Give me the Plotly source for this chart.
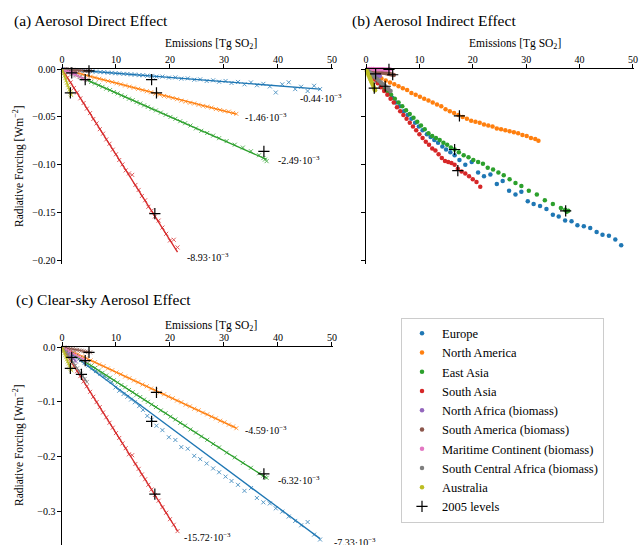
import plotly.graph_objects as go

FONT = "Liberation Serif, DejaVu Serif, Times New Roman, serif"
W, H = 639, 545

REGIONS = ["Europe", "North America", "East Asia", "South Asia",
           "North Africa (biomass)", "South America (biomass)",
           "Maritime Continent (biomass)", "South Central Africa (biomass)",
           "Australia"]
COLORS = ["#1f77b4", "#ff7f0e", "#2ca02c", "#d62728", "#9467bd",
          "#8c564b", "#e377c2", "#7f7f7f", "#bcbd22"]

# ---------------- emissions (Tg SO2) per region ----------------
eu_x = [0.6, 1.3, 2.1, 2.8, 3.5, 4.2, 4.9, 5.6, 6.3, 7.1,
        7.8, 8.5, 9.2, 9.9, 10.6, 11.4, 12.1, 12.8, 13.5, 14.3,
        15.0, 15.8, 16.6, 17.5, 18.6, 19.8, 21.0, 22.1, 23.3, 24.5,
        25.6, 26.8, 28.0, 29.1, 30.3, 31.4, 32.6, 33.8, 35.0, 36.1,
        37.3, 38.5, 39.6, 40.8, 42.0, 43.2, 44.3, 45.5, 46.7, 47.8]
na_x = [0.5, 1.3, 2.1, 2.9, 3.7, 4.5, 5.3, 6.1, 6.9, 7.7,
        8.5, 9.3, 10.1, 10.9, 11.7, 12.5, 13.3, 14.1, 14.9, 15.7,
        16.5, 17.3, 18.1, 18.9, 19.7, 20.5, 21.3, 22.1, 22.9, 23.7,
        24.5, 25.3, 26.1, 26.9, 27.7, 28.5, 29.3, 30.1, 30.9, 31.7,
        32.3]
ea_x = [0.5, 1.2, 1.9, 2.6, 3.3, 4.0, 4.7, 5.4, 6.1, 6.8,
        7.5, 8.2, 8.9, 9.6, 10.3, 11.0, 11.7, 12.4, 13.1, 13.8,
        14.5, 15.2, 15.9, 16.6, 17.4, 18.3, 19.2, 20.1, 21.0, 21.9,
        22.8, 23.8, 24.8, 25.8, 26.9, 28.0, 29.1, 30.5, 32.0, 33.5,
        35.0, 36.5, 37.3, 37.6, 37.9]
sa_x = [0.4, 1.0, 1.6, 2.2, 2.8, 3.4, 4.0, 4.6, 5.2, 5.8,
        6.4, 7.0, 7.6, 8.2, 8.8, 9.4, 10.0, 10.6, 11.2, 11.8,
        12.4, 13.0, 13.6, 14.2, 14.8, 15.4, 16.0, 16.6, 17.2, 17.9,
        18.6, 19.3, 20.0, 20.7, 21.4]
naf_x = [0.2, 0.4, 0.6, 0.8, 1.0, 1.2, 1.4, 1.6, 1.8, 2.0, 2.2, 2.4, 2.6]
sam_x = [0.4, 0.8, 1.2, 1.6, 2.0, 2.4, 2.8, 3.2, 3.6, 4.0, 4.4, 4.8, 5.2]
mc_x = [0.35, 0.7, 1.05, 1.4, 1.75, 2.1, 2.45, 2.8, 3.15, 3.5, 3.85, 4.2, 4.5]
scaf_x = [0.35, 0.7, 1.05, 1.4, 1.75, 2.1, 2.45, 2.8, 3.15, 3.5, 3.85, 4.2, 4.6]
au_x = [0.15, 0.3, 0.45, 0.6, 0.75, 0.9, 1.05, 1.2, 1.35, 1.5, 1.6, 1.7]

# ---------------- (a) direct effect ----------------
eu_a = [-0.0003, -0.0006, -0.0010, -0.0011, -0.0016, -0.0019, -0.0020, -0.0026, -0.0027, -0.0032,
        -0.0033, -0.0038, -0.0040, -0.0044, -0.0046, -0.0051, -0.0052, -0.0057, -0.0058, -0.0064,
        -0.0065, -0.0070, -0.0072, -0.0080, -0.0079, -0.0090, -0.0088, -0.0101, -0.0098, -0.0112,
        -0.0108, -0.0125, -0.0118, -0.0133, -0.0125, -0.0146, -0.0135, -0.0160, -0.0140, -0.0170,
        -0.0155, -0.0182, -0.0245, -0.0160, -0.0139, -0.0210, -0.0185, -0.0230, -0.0175, -0.0210]
na_a = [-0.0008, -0.0019, -0.0031, -0.0043, -0.0055, -0.0068, -0.0080, -0.0090, -0.0102, -0.0113,
        -0.0126, -0.0136, -0.0149, -0.0160, -0.0172, -0.0184, -0.0195, -0.0207, -0.0220, -0.0232,
        -0.0243, -0.0257, -0.0268, -0.0281, -0.0290, -0.0303, -0.0315, -0.0330, -0.0340, -0.0352,
        -0.0360, -0.0373, -0.0385, -0.0393, -0.0403, -0.0418, -0.0428, -0.0438, -0.0445, -0.0458,
        -0.0468]
ea_a = [-0.0013, -0.0030, -0.0048, -0.0066, -0.0083, -0.0100, -0.0118, -0.0135, -0.0151, -0.0170,
        -0.0186, -0.0205, -0.0220, -0.0240, -0.0255, -0.0275, -0.0290, -0.0310, -0.0325, -0.0345,
        -0.0360, -0.0380, -0.0395, -0.0415, -0.0432, -0.0455, -0.0478, -0.0500, -0.0520, -0.0545,
        -0.0566, -0.0590, -0.0620, -0.0645, -0.0668, -0.0695, -0.0722, -0.0752, -0.0790, -0.0820,
        -0.0858, -0.0900, -0.0930, -0.0945, -0.0962]
sa_a = [-0.0036, -0.0092, -0.0140, -0.0198, -0.0245, -0.0306, -0.0355, -0.0414, -0.0460, -0.0522,
        -0.0568, -0.0628, -0.0675, -0.0735, -0.0780, -0.0842, -0.0890, -0.0950, -0.0996, -0.1058,
        -0.1090, -0.1105, -0.1210, -0.1262, -0.1325, -0.1370, -0.1438, -0.1478, -0.1540, -0.1582,
        -0.1655, -0.1720, -0.1790, -0.1782, -0.1862]
naf_a = [-0.0004, -0.0008, -0.0012, -0.0016, -0.0021, -0.0024, -0.0029, -0.0032, -0.0037, -0.0040,
         -0.0045, -0.0048, -0.0053]
sam_a = [-0.0002, -0.0003, -0.0005, -0.0006, -0.0008, -0.0010, -0.0011, -0.0013, -0.0014, -0.0016,
         -0.0018, -0.0019, -0.0021]
mc_a = [-0.0009, -0.0018, -0.0026, -0.0035, -0.0044, -0.0053, -0.0061, -0.0070, -0.0079, -0.0088,
        -0.0096, -0.0105, -0.0113]
scaf_a = [0.0001, 0.0001, 0.0002, 0.0003, 0.0004, 0.0004, 0.0005, 0.0006, 0.0006, 0.0007,
          0.0008, 0.0008, 0.0009]
au_a = [-0.0024, -0.0048, -0.0072, -0.0096, -0.0120, -0.0144, -0.0168, -0.0192, -0.0216, -0.0240,
        -0.0256, -0.0272]

# ---------------- (b) indirect effect ----------------
eu_b = [-0.004, -0.008, -0.013, -0.018, -0.022, -0.026, -0.030, -0.035, -0.039, -0.044,
        -0.048, -0.052, -0.056, -0.060, -0.064, -0.068, -0.071, -0.074, -0.077, -0.081,
        -0.084, -0.087, -0.090, -0.095, -0.100, -0.097, -0.108, -0.112, -0.110, -0.120,
        -0.117, -0.127, -0.131, -0.128, -0.138, -0.141, -0.143, -0.146, -0.152, -0.154,
        -0.158, -0.159, -0.163, -0.164, -0.166, -0.170, -0.173, -0.174, -0.178, -0.184]
na_b = [-0.002, -0.005, -0.008, -0.010, -0.012, -0.014, -0.016, -0.018, -0.020, -0.022,
        -0.025, -0.027, -0.029, -0.031, -0.033, -0.035, -0.037, -0.039, -0.042, -0.044,
        -0.046, -0.048, -0.050, -0.052, -0.054, -0.055, -0.056, -0.058, -0.059, -0.060,
        -0.062, -0.063, -0.064, -0.065, -0.066, -0.067, -0.069, -0.070, -0.072, -0.073,
        -0.075]
ea_b = [-0.003, -0.007, -0.011, -0.015, -0.019, -0.023, -0.027, -0.031, -0.035, -0.039,
        -0.043, -0.047, -0.051, -0.055, -0.059, -0.063, -0.067, -0.070, -0.072, -0.074,
        -0.077, -0.079, -0.082, -0.084, -0.087, -0.090, -0.092, -0.095, -0.097, -0.099,
        -0.103, -0.105, -0.108, -0.111, -0.115, -0.119, -0.122, -0.127, -0.131, -0.137,
        -0.141, -0.145, -0.147, -0.149, -0.148]
sa_b = [-0.003, -0.007, -0.011, -0.015, -0.019, -0.023, -0.027, -0.031, -0.035, -0.040,
        -0.044, -0.048, -0.052, -0.056, -0.060, -0.064, -0.068, -0.072, -0.076, -0.079,
        -0.083, -0.085, -0.089, -0.093, -0.096, -0.097, -0.098, -0.100, -0.104, -0.107,
        -0.109, -0.112, -0.115, -0.118, -0.123]
naf_b = [-0.0006, -0.0011, -0.0017, -0.0022, -0.0028, -0.0034, -0.0039, -0.0045, -0.0050, -0.0056,
         -0.0062, -0.0067, -0.0073]
sam_b = [-0.0005, -0.0010, -0.0014, -0.0019, -0.0024, -0.0029, -0.0034, -0.0038, -0.0043, -0.0048,
         -0.0053, -0.0058, -0.0062]
mc_b = [-0.0000, -0.0001, -0.0001, -0.0001, -0.0002, -0.0002, -0.0002, -0.0003, -0.0003, -0.0004,
        -0.0004, -0.0004, -0.0005]
scaf_b = [-0.0018, -0.0035, -0.0053, -0.0070, -0.0088, -0.0105, -0.0123, -0.0140, -0.0158, -0.0175,
          -0.0193, -0.0210, -0.0230]
au_b = [-0.0020, -0.0039, -0.0059, -0.0078, -0.0098, -0.0117, -0.0137, -0.0156, -0.0176, -0.0195,
        -0.0208, -0.0221]

# ---------------- (c) clear-sky effect ----------------
eu_c = [-0.004, -0.009, -0.014, -0.019, -0.024, -0.029, -0.034, -0.039, -0.044, -0.049,
        -0.053, -0.058, -0.064, -0.074, -0.080, -0.086, -0.091, -0.096, -0.101, -0.108,
        -0.115, -0.126, -0.133, -0.144, -0.152, -0.165, -0.170, -0.183, -0.186, -0.199,
        -0.205, -0.213, -0.222, -0.229, -0.237, -0.245, -0.252, -0.263, -0.258, -0.276,
        -0.284, -0.286, -0.295, -0.301, -0.310, -0.318, -0.326, -0.320, -0.343, -0.352]
na_c = [-0.0025, -0.0058, -0.0098, -0.0131, -0.0172, -0.0205, -0.0245, -0.0278, -0.0319, -0.0350,
        -0.0392, -0.0425, -0.0466, -0.0498, -0.0540, -0.0571, -0.0613, -0.0645, -0.0686, -0.0718,
        -0.0760, -0.0792, -0.0833, -0.0865, -0.0906, -0.0938, -0.0980, -0.1010, -0.1055, -0.1085,
        -0.1128, -0.1158, -0.1200, -0.1232, -0.1273, -0.1305, -0.1348, -0.1378, -0.1420, -0.1452,
        -0.1485]
ea_c = [-0.0030, -0.0078, -0.0118, -0.0166, -0.0207, -0.0255, -0.0295, -0.0343, -0.0384, -0.0432,
        -0.0472, -0.0520, -0.0560, -0.0609, -0.0649, -0.0697, -0.0737, -0.0786, -0.0826, -0.0874,
        -0.0914, -0.0963, -0.1003, -0.1051, -0.1098, -0.1160, -0.1210, -0.1273, -0.1325, -0.1388,
        -0.1438, -0.1508, -0.1565, -0.1635, -0.1697, -0.1772, -0.1836, -0.1932, -0.2018, -0.2120,
        -0.2208, -0.2310, -0.2350, -0.2380, -0.2392]
sa_c = [-0.0063, -0.0155, -0.0254, -0.0344, -0.0442, -0.0532, -0.0631, -0.0720, -0.0820, -0.0910,
        -0.1008, -0.1098, -0.1197, -0.1286, -0.1385, -0.1475, -0.1574, -0.1663, -0.1763, -0.1850,
        -0.1962, -0.1978, -0.2138, -0.2228, -0.2330, -0.2418, -0.2518, -0.2605, -0.2706, -0.2810,
        -0.2928, -0.3030, -0.3148, -0.3250, -0.3366]
naf_c = [-0.0020, -0.0041, -0.0061, -0.0082, -0.0102, -0.0123, -0.0143, -0.0164, -0.0184, -0.0205,
         -0.0225, -0.0246, -0.0266]
sam_c = [-0.0008, -0.0015, -0.0023, -0.0030, -0.0038, -0.0046, -0.0053, -0.0061, -0.0068, -0.0076,
         -0.0084, -0.0091, -0.0099]
mc_c = [-0.0020, -0.0041, -0.0061, -0.0081, -0.0102, -0.0122, -0.0142, -0.0162, -0.0183, -0.0203,
        -0.0223, -0.0244, -0.0261]
scaf_c = [-0.0049, -0.0097, -0.0146, -0.0195, -0.0243, -0.0292, -0.0341, -0.0389, -0.0438, -0.0487,
          -0.0535, -0.0584, -0.0639]
au_c = [-0.0038, -0.0075, -0.0113, -0.0150, -0.0188, -0.0225, -0.0263, -0.0300, -0.0338, -0.0375,
        -0.0400, -0.0425]

# ---------------- fitted slopes (W m-2 per Tg SO2) ----------------
slope_a = [-0.44e-3, -1.46e-3, -2.49e-3, -8.93e-3, -2.0e-3, -0.4e-3, -2.5e-3, 0.2e-3, -16.0e-3]
slope_c = [-7.33e-3, -4.59e-3, -6.32e-3, -15.72e-3, -10.2e-3, -1.9e-3, -5.8e-3, -13.9e-3, -25.0e-3]

# ---------------- 2005 levels ----------------
lev_x = [16.6, 17.5, 37.4, 17.2, 1.8, 5.0, 4.3, 3.6, 1.55]
lev_a = [-0.011, -0.025, -0.086, -0.151, -0.004, -0.002, -0.011, 0.0005, -0.025]
lev_b = [-0.084, -0.049, -0.148, -0.106, -0.005, -0.006, -0.0003, -0.018, -0.020]
lev_c = [-0.136, -0.083, -0.232, -0.269, -0.019, -0.010, -0.025, -0.050, -0.039]

X = [eu_x, na_x, ea_x, sa_x, naf_x, sam_x, mc_x, scaf_x, au_x]
YA = [eu_a, na_a, ea_a, sa_a, naf_a, sam_a, mc_a, scaf_a, au_a]
YB = [eu_b, na_b, ea_b, sa_b, naf_b, sam_b, mc_b, scaf_b, au_b]
YC = [eu_c, na_c, ea_c, sa_c, naf_c, sam_c, mc_c, scaf_c, au_c]

fig = go.Figure()

panels = [("x", "y", YA, slope_a, lev_a),
          ("x2", "y2", YB, None, lev_b),
          ("x3", "y3", YC, slope_c, lev_c)]

for xa, ya, YS, slopes, lev in panels:
    for i in range(len(REGIONS)):
        if slopes is not None:
            fig.add_trace(go.Scatter(
                x=X[i], y=YS[i], mode="markers", xaxis=xa, yaxis=ya,
                marker=dict(symbol="x-thin", size=4, color=COLORS[i],
                            line=dict(width=1, color=COLORS[i])),
                opacity=0.75, showlegend=False, cliponaxis=False, hoverinfo="skip"))
            xm = max(X[i])
            fig.add_trace(go.Scatter(
                x=[0, xm], y=[0, slopes[i] * xm], mode="lines", xaxis=xa, yaxis=ya,
                line=dict(color=COLORS[i], width=1.3),
                showlegend=False, cliponaxis=False, hoverinfo="skip"))
        else:
            fig.add_trace(go.Scatter(
                x=X[i], y=YS[i], mode="markers", xaxis=xa, yaxis=ya,
                marker=dict(symbol="circle", size=4.5, color=COLORS[i]),
                name=REGIONS[i], showlegend=True, cliponaxis=False))
    fig.add_trace(go.Scatter(
        x=lev_x, y=lev, mode="markers", xaxis=xa, yaxis=ya,
        marker=dict(symbol="cross-thin", size=8, color="black",
                    line=dict(width=1.2, color="black")),
        name="2005 levels", showlegend=(slopes is None), cliponaxis=False))

axis_common = dict(showline=True, linecolor="black", linewidth=1.2, ticks="outside",
                   ticklen=3.5, tickwidth=0.8, tickcolor="black", showgrid=False,
                   zeroline=False, mirror=False, automargin=False,
                   tickfont=dict(family=FONT, size=10, color="black"))
xaxis_extra = dict(side="top", range=[0, 50.2], tickvals=[0, 10, 20, 30, 40, 50],
                   ticklabelstandoff=-3)

ya_ticks = [0, -0.05, -0.10, -0.15, -0.20]
yc_ticks = [0, -0.1, -0.2, -0.3]

fig.update_layout(
    width=W, height=H, margin=dict(l=0, r=0, t=0, b=0),
    paper_bgcolor="white", plot_bgcolor="white",
    font=dict(family=FONT, color="black"),
    xaxis=dict(axis_common, **xaxis_extra, domain=[62 / W, 333 / W], anchor="y"),
    yaxis=dict(axis_common, domain=[1 - 264 / H, 1 - 69 / H], range=[-0.2035, 0],
               anchor="x", tickvals=ya_ticks, tickformat=".2f"),
    xaxis2=dict(axis_common, **xaxis_extra, domain=[366 / W, 634 / W], anchor="y2"),
    yaxis2=dict(axis_common, domain=[1 - 264 / H, 1 - 69 / H], range=[-0.2035, 0],
                anchor="x2", tickvals=ya_ticks, showticklabels=False),
    xaxis3=dict(axis_common, **xaxis_extra, domain=[62 / W, 333 / W], anchor="y3"),
    yaxis3=dict(axis_common, domain=[0, 1 - 347 / H], range=[-0.362, 0],
                anchor="x3", tickvals=yc_ticks, tickformat=".1f"),
    legend=dict(x=401 / W, y=1 - 420 / H, xanchor="left", yanchor="middle",
                bgcolor="white", bordercolor="#cccccc", borderwidth=1,
                font=dict(family=FONT, size=12.5, color="black"),
                tracegroupgap=0),
)

ann = []
def paper_text(txt, x, y, size, xanchor="left", angle=0):
    ann.append(dict(text=txt, x=x / W, y=1 - y / H, xref="paper", yref="paper",
                    xanchor=xanchor, yanchor="middle", showarrow=False, textangle=angle,
                    font=dict(family=FONT, size=size, color="black")))

paper_text("(a) Aerosol Direct Effect", 12, 21, 15.5)
paper_text("(b) Aerosol Indirect Effect", 350, 21, 15.5)
paper_text("(c) Clear-sky Aerosol Effect", 14, 300, 15.5)
xlabel = "Emissions [Tg SO<sub>2</sub>]"
paper_text(xlabel, 211, 44, 11.5, "center")
paper_text(xlabel, 515, 44, 11.5, "center")
paper_text(xlabel, 211, 326, 11.5, "center")
ylabel = "Radiative Forcing [Wm<sup>\u22122</sup>]"
paper_text(ylabel, 18, 166, 11.5, "center", -90)
paper_text(ylabel, 18, 445, 11.5, "center", -90)

def slope_label(s):
    return "-%.2f\u00b710<sup>\u22123</sup>" % abs(s * 1e3)

lab_a = [(43.7, -0.030), (33.5, -0.050), (39.6, -0.095), (22.8, -0.196)]
lab_c = [(50.0, -0.357), (33.5, -0.151), (39.6, -0.243), (22.3, -0.347)]
for (xr, yr, labs, slopes) in [("x", "y", lab_a, slope_a), ("x3", "y3", lab_c, slope_c)]:
    for i, (lx, ly) in enumerate(labs):
        ann.append(dict(text=slope_label(slopes[i]), x=lx, y=ly, xref=xr, yref=yr,
                        xanchor="left", yanchor="middle", showarrow=False,
                        font=dict(family=FONT, size=10, color="black")))

fig.update_layout(annotations=ann)
fig.write_html("out.html",
               config={"displayModeBar": False},
               post_script="document.body.style.margin='0px';"
                           "document.body.style.overflow='hidden';")
